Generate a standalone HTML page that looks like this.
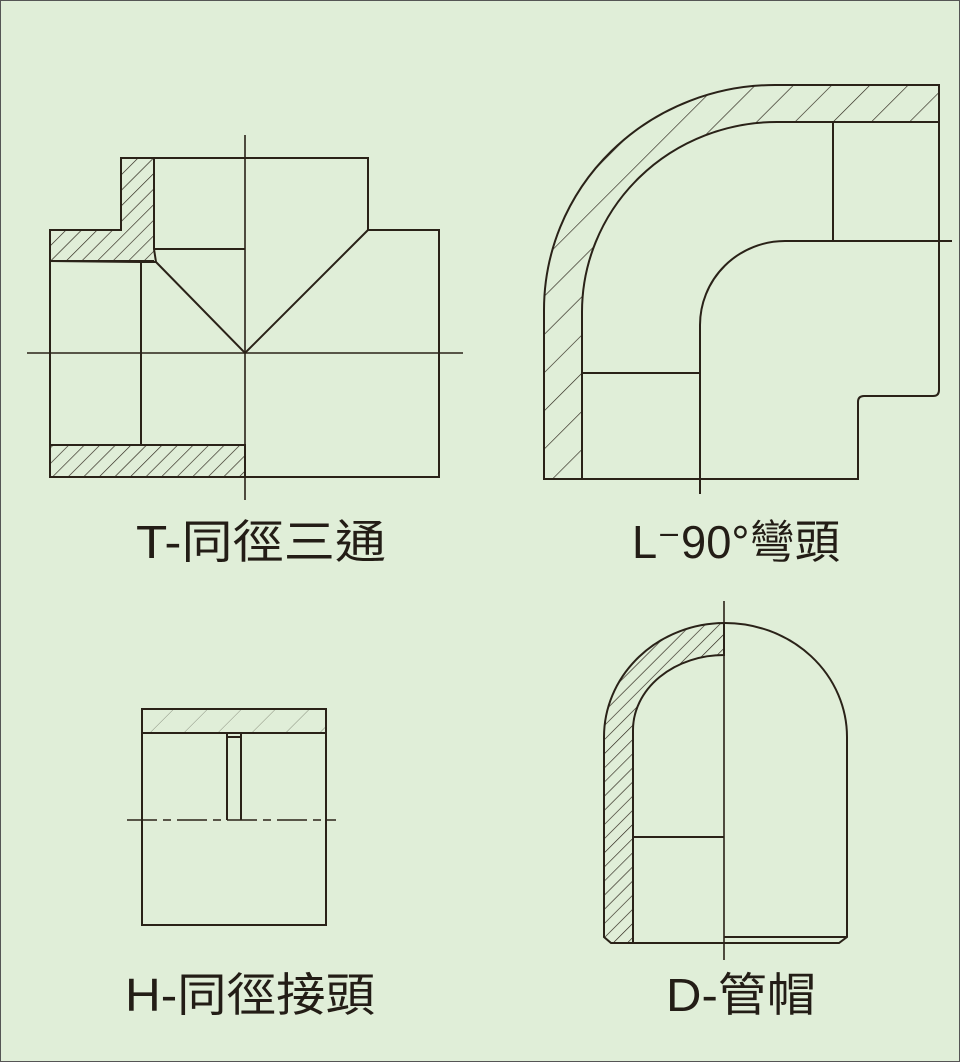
<!DOCTYPE html>
<html><head><meta charset="utf-8"><style>
html,body{margin:0;padding:0;background:#e0eed8;}
svg{display:block}
text{font-family:"Liberation Sans","Noto Sans CJK TC",sans-serif;fill:#231d16}
</style></head><body>
<svg width="960" height="1062" viewBox="0 0 960 1062" xmlns="http://www.w3.org/2000/svg">
<defs>
<pattern id="h1" width="11" height="11" patternUnits="userSpaceOnUse" patternTransform="rotate(45)"><line x1="0" y1="0" x2="0" y2="11" stroke="#2a2218" stroke-width="1.3"/></pattern>
<pattern id="h2" width="27" height="27" patternUnits="userSpaceOnUse" patternTransform="rotate(45)"><line x1="0" y1="0" x2="0" y2="27" stroke="#2a2218" stroke-width="1.3"/></pattern>
<pattern id="h3" width="10" height="10" patternUnits="userSpaceOnUse" patternTransform="rotate(45)"><line x1="0" y1="0" x2="0" y2="10" stroke="#2a2218" stroke-width="1.3"/></pattern>
<pattern id="h4" width="24" height="24" patternUnits="userSpaceOnUse" patternTransform="rotate(45)"><line x1="0" y1="0" x2="0" y2="24" stroke="#8a9080" stroke-width="1"/></pattern>
</defs>
<rect x="0.5" y="0.5" width="959" height="1061" fill="#e0eed8" stroke="#555" stroke-width="1"/>
<g fill="none" stroke="#2a2218" stroke-width="2">
<!-- Tee -->
<path d="M121,158 L154,158 L154,249 L156,262 L141,262 L50,261 L50,230 L121,230 Z" fill="url(#h1)"/>
<rect x="50" y="445" width="195" height="32" fill="url(#h1)"/>
<path d="M121,230 L121,158 L368,158 L368,230 L439,230 L439,477 L50,477 L50,230 Z"/>
<path d="M50,261 L154,261 M141,261 L141,445 L245,445 M154,249 L245,249 M156,262 L245,353 L368,230"/>
<path d="M245,135 L245,500 M27,353 L463,353" stroke-width="1.6"/>
<!-- Elbow -->
<path d="M544,479 L544,310 A231,225 0 0 1 775,85 L939,85 L939,122 L777,122 A195,190 0 0 0 582,312 L582,479 Z" fill="url(#h2)"/>
<path d="M939,122 L939,390 Q939,396 933,396 L864,396 Q858,396 858,402 L858,479 L544,479"/>
<path d="M582,373 L700,373 M700,494 L700,325 A85,84 0 0 1 785,241 L952,241 M833,122 L833,241"/>
<!-- Coupling -->
<rect x="142" y="709" width="184" height="24" fill="url(#h4)"/>
<path d="M142,709 L142,925 L326,925 L326,709 M227,733 L227,820 M241,733 L241,820 M227,737 L241,737"/>
<path d="M127,820 L336,820" stroke-dasharray="30,6,8,6" stroke-width="1.6"/>
<!-- Cap -->
<path d="M604,937 L604,737 A121,114 0 0 1 724,623 L724,655 A91,75 0 0 0 633,730 L633,943 L611,943 Z" fill="url(#h3)"/>
<path d="M724,623 A122,114 0 0 1 847,737 L847,937 L839,943 L611,943 M633,837 L724,837 M724,937 L847,937"/>
<path d="M724,601 L724,960" stroke-width="1.6"/>
</g>
<text x="136" y="558" font-size="46" textLength="250" lengthAdjust="spacingAndGlyphs">T-同徑三通</text>
<text x="632" y="558" font-size="46" textLength="208" lengthAdjust="spacingAndGlyphs">L⁻90°彎頭</text>
<text x="125" y="1011" font-size="46" textLength="250" lengthAdjust="spacingAndGlyphs">H-同徑接頭</text>
<text x="666" y="1011" font-size="46" textLength="150" lengthAdjust="spacingAndGlyphs">D-管帽</text>
</svg>
</body></html>
